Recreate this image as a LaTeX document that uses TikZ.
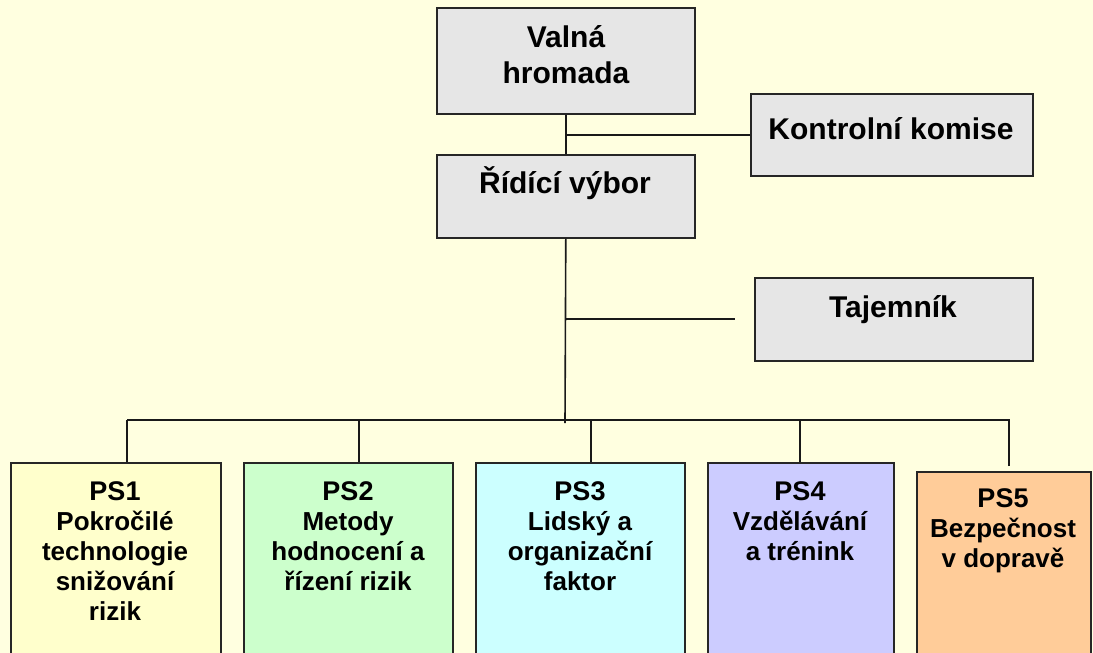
\documentclass[tikz,border=0pt]{standalone}
\usepackage{fontspec}
\setmainfont{Liberation Sans}
\usetikzlibrary{calc}
\definecolor{bg}{HTML}{FFFFE0}
\definecolor{gr}{HTML}{E6E6E6}
\definecolor{cA}{HTML}{FFFFCC}
\definecolor{cB}{HTML}{CCFFCC}
\definecolor{cC}{HTML}{CCFFFF}
\definecolor{cD}{HTML}{CCCCFF}
\definecolor{cE}{HTML}{FFCC99}
\tikzset{
 box/.style={draw=black!85, line width=1.6pt, rectangle, inner sep=0pt, anchor=north west},
 graybox/.style={box, fill=gr},
 conn/.style={draw=black!90, line width=1.6pt},
 bigtxt/.style={inner sep=0pt, anchor=north, align=center, font=\bfseries\fontsize{30}{36}\selectfont},
 pstxt/.style={inner sep=0pt, anchor=north, align=center, font=\bfseries\fontsize{26}{30}\selectfont},
}
\newcommand{\bigstrut}{\rule{0pt}{29pt}}
\newcommand{\psstrut}{\rule{0pt}{25pt}}
\newcommand{\pshead}[1]{{\fontsize{27}{30}\selectfont\psstrut #1}}
\begin{document}
\begin{tikzpicture}[x=1pt,y=-1pt]
\useasboundingbox (0,0) rectangle (1093,653);
\fill[bg] (0,0) rectangle (1093,653);
\begin{scope}
\clip (0,0) rectangle (1093,653);
% top boxes
\node[graybox, minimum width=258pt, minimum height=106pt] (vh) at (436,7) {};
\node[graybox, minimum width=282pt, minimum height=82pt] (kk) at (750,93) {};
\node[graybox, minimum width=258pt, minimum height=83pt] (rv) at (436,154) {};
\node[graybox, minimum width=278pt, minimum height=83pt] (tj) at (754,277) {};
% PS boxes
\node[box, fill=cA, minimum width=210pt, minimum height=250pt] (ps1) at (10,462) {};
\node[box, fill=cB, minimum width=209pt, minimum height=250pt] (ps2) at (243,462) {};
\node[box, fill=cC, minimum width=209pt, minimum height=250pt] (ps3) at (475,462) {};
\node[box, fill=cD, minimum width=186pt, minimum height=250pt] (ps4) at (707,462) {};
\node[box, fill=cE, minimum width=174pt, minimum height=250pt] (ps5) at (916,471) {};
\end{scope}
% texts
\node[bigtxt] (vht) at (566,18) {\bigstrut Valná\\hromada};
\node[bigtxt] (kkt) at (891,110) {\bigstrut Kontrolní komise};
\node[bigtxt] (rvt) at (565,164) {\bigstrut Řídící výbor};
\node[bigtxt] (tjt) at (893,288) {\bigstrut Tajemník};
\node[pstxt] (t1) at (115,475) {\pshead{PS1}\\Pokročilé\\technologie\\snižování\\rizik};
\node[pstxt] (t2) at (348,475) {\pshead{PS2}\\Metody\\hodnocení a\\řízení rizik};
\node[pstxt] (t3) at (580,475) {\pshead{PS3}\\Lidský a\\organizační\\faktor};
\node[pstxt] (t4) at (800,475) {\pshead{PS4}\\Vzdělávání\\a trénink};
\node[pstxt] (t5) at (1003,482) {\pshead{PS5}\\Bezpečnost\\v dopravě};
% connectors
\coordinate (busL) at (127,420);
\coordinate (busR) at (1010,420);
\coordinate (trunkEnd) at (565,423);
\coordinate (tjEnd) at (735,319);
\coordinate (d1) at (127,462);
\coordinate (d2) at (359,462);
\coordinate (d3) at (591,462);
\coordinate (d4) at (800,462);
\coordinate (d5) at (1009,466);
\draw[conn] (vh.south) -- (rv.north);
\draw[conn] (kk.west) -- (kk.west -| vh.south);
\draw[conn] (rv.south) -- (trunkEnd);
\draw[conn] (tjEnd -| rv.south) -- (tjEnd);
\draw[conn] (busL) -- (busR);
\draw[conn] (d1) -- (d1 |- busL);
\draw[conn] (d2) -- (d2 |- busL);
\draw[conn] (d3) -- (d3 |- busL);
\draw[conn] (d4) -- (d4 |- busL);
\draw[conn] (d5) -- (d5 |- busL);
\end{tikzpicture}
\end{document}
